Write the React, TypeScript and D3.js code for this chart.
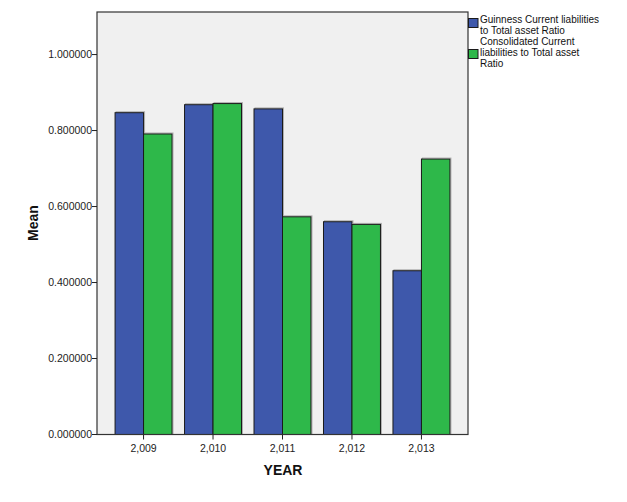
import React from "react";
import * as d3 from "d3";

const years = [2009, 2010, 2011, 2012, 2013];
const seriesNames = [
  ["Guinness Current liabilities", "to Total asset Ratio"],
  ["Consolidated Current", "liabilities to Total asset", "Ratio"],
];
const guinness = [0.847, 0.868, 0.857, 0.56, 0.431];
const consolidated = [0.791, 0.871, 0.573, 0.553, 0.725];
const yTicks = [0, 0.2, 0.4, 0.6, 0.8, 1.0];
const colors = ["#3e58ab", "#2eb84a"];

const W = 627;
const H = 502;
const left = 97;
const right = 468;
const top = 12;
const bottom = 434.5;
const FONT = "Arial, 'Liberation Sans', sans-serif";

export default function App() {
  const x = d3
    .scaleBand<number>()
    .domain(years)
    .range([left, right])
    .paddingInner(0.18)
    .paddingOuter(0.26);
  const y = d3.scaleLinear().domain([0, 1.112]).range([bottom, top]);
  const bw = x.bandwidth() / 2;
  const series = [guinness, consolidated];
  const fmtY = d3.format(".6f");
  const fmtX = d3.format(",");

  return (
    <svg
      width={W}
      height={H}
      style={{ position: "absolute", left: 0, top: 0, display: "block" }}
      fontFamily={FONT}
    >
      <rect x={0} y={0} width={W} height={H} fill="#ffffff" />
      <rect x={left} y={top} width={right - left} height={bottom - top} fill="#f0f0f0" />
      {series.map((vals, si) =>
        vals.map((v, i) => {
          const bx = (x(years[i]) as number) + si * bw;
          const by = y(v);
          return (
            <g key={`${si}-${i}`}>
              <rect
                x={bx + 1}
                y={by - 1}
                width={bw}
                height={bottom - by + 1}
                fill="none"
                stroke="#b0b0b0"
                strokeWidth={1}
              />
              <rect
                x={bx}
                y={by}
                width={bw}
                height={bottom - by}
                fill={colors[si]}
                stroke="#1a1a1a"
                strokeWidth={1}
              />
            </g>
          );
        })
      )}
      <rect
        x={left}
        y={top}
        width={right - left}
        height={bottom - top}
        fill="none"
        stroke="#333333"
        strokeWidth={1.2}
      />
      {yTicks.map((t) => (
        <g key={t}>
          <line x1={left - 5} x2={left} y1={y(t)} y2={y(t)} stroke="#222" />
          <text
            x={left - 5}
            y={y(t)}
            dy="0.35em"
            textAnchor="end"
            fontSize={10.5}
            fill="#222"
          >
            {fmtY(t)}
          </text>
        </g>
      ))}
      {years.map((yr) => {
        const cx = (x(yr) as number) + x.bandwidth() / 2;
        return (
          <g key={yr}>
            <line x1={cx} x2={cx} y1={bottom} y2={bottom + 5} stroke="#222" />
            <text x={cx} y={452} textAnchor="middle" fontSize={10.5} fill="#222">
              {fmtX(yr)}
            </text>
          </g>
        );
      })}
      <text
        x={283}
        y={475}
        textAnchor="middle"
        fontSize={14}
        fontWeight="bold"
        fill="#111"
      >
        YEAR
      </text>
      <text
        transform={`translate(38, 223) rotate(-90)`}
        textAnchor="middle"
        fontSize={14}
        fontWeight="bold"
        fill="#111"
      >
        Mean
      </text>
      {seriesNames.map((lines, si) => {
        const boxY = si === 0 ? 18.5 : 49.5;
        const textY = si === 0 ? 22.5 : 44.5;
        return (
          <g key={si}>
            <rect
              x={468.5}
              y={boxY}
              width={9.5}
              height={9}
              fill={colors[si]}
              stroke="#1a1a1a"
              strokeWidth={1}
            />
            {lines.map((ln, li) => (
              <text
                key={li}
                x={480}
                y={textY + li * 11}
                fontSize={10}
                fill="#111"
              >
                {ln}
              </text>
            ))}
          </g>
        );
      })}
    </svg>
  );
}
